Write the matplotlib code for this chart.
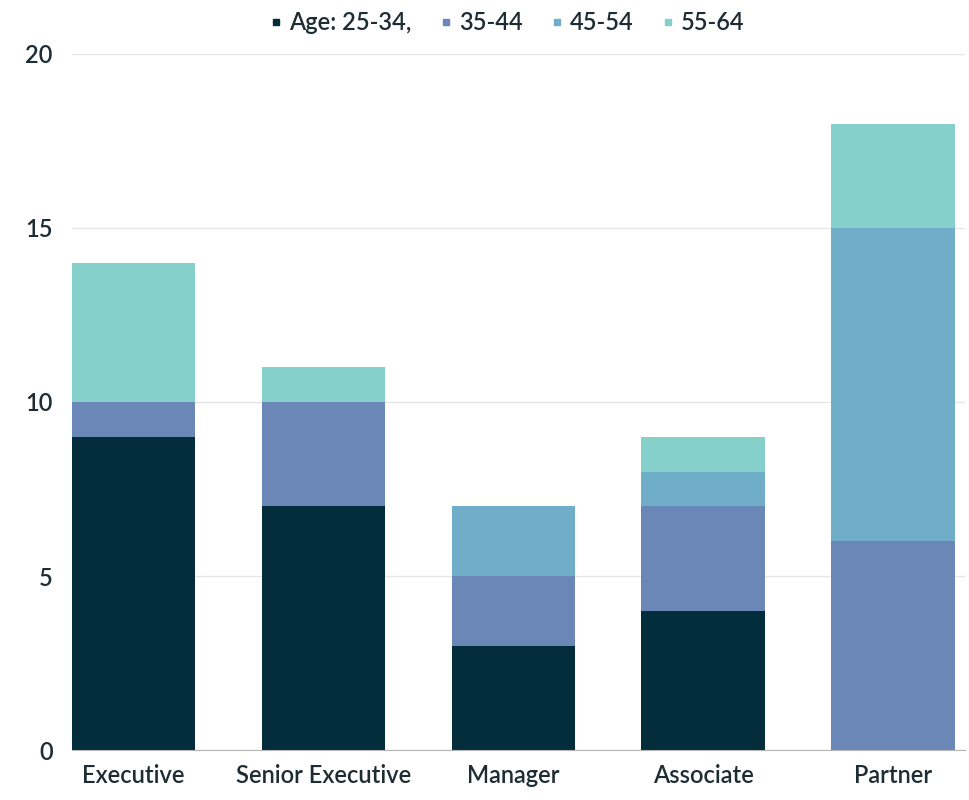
import numpy as np
from matplotlib import pyplot as plt
from matplotlib.lines import Line2D

plt.rcParams['font.family'] = ['Lato', 'DejaVu Sans']
plt.rcParams['font.weight'] = 'semibold'

roles = ["Executive", "Senior Executive", "Manager", "Associate", "Partner"]
age_labels = ["Age: 25-34,", "35-44", "45-54", "55-64"]
age_25_34 = [9, 7, 3, 4, 0]
age_35_44 = [1, 3, 2, 3, 6]
age_45_54 = [0, 0, 2, 1, 9]
age_55_64 = [4, 1, 0, 1, 3]
colors = ["#032d3a", "#6a87b8", "#6fadc8", "#86d0cb"]

fig = plt.figure(figsize=(9.7, 8), dpi=100)
ax = fig.add_axes([72 / 970, 50 / 800, (965 - 72) / 970, (750 - 54) / 800])

x = np.arange(len(roles))
bottom = np.zeros(len(roles))
for vals, c in zip([age_25_34, age_35_44, age_45_54, age_55_64], colors):
    ax.bar(x, vals, 0.65, bottom=bottom, color=c, zorder=3)
    bottom += np.array(vals)

ax.set_ylim(0, 20)
ax.set_xlim(-0.325, 4.38)
ax.set_yticks([0, 5, 10, 15, 20])
ax.grid(axis="y", color="#e6e6e6", linewidth=1, zorder=0)
for s in ["top", "right", "left"]:
    ax.spines[s].set_visible(False)
ax.spines["bottom"].set_color("#b5b5b5")
ax.spines["bottom"].set_zorder(4)
ax.tick_params(axis="both", length=0, labelsize=17, labelcolor="#1e2d33")
ax.tick_params(axis="y", pad=14)
ax.tick_params(axis="x", pad=10)
ax.set_xticks(x)
ax.set_xticklabels(roles)

handles = [Line2D([], [], marker="s", linestyle="none", color=c, markersize=4)
           for c in colors]
fig.legend(handles, age_labels, loc="center", bbox_to_anchor=(0.523, 0.972),
           ncol=4, frameon=False, fontsize=17, handlelength=0.5,
           handletextpad=0.3, columnspacing=1.2, labelcolor="#1e2d33")

plt.savefig("out.png")
